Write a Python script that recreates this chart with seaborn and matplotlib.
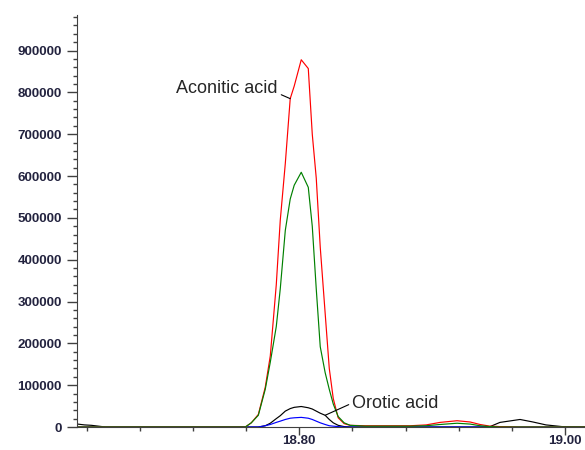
import matplotlib
matplotlib.use("Agg")
import matplotlib.pyplot as plt
from matplotlib.ticker import FixedLocator, MultipleLocator, NullFormatter
import pandas as pd
import seaborn as sns

# Retention time (min) shared by all traces
rt = [18.6331, 18.6383, 18.6436, 18.6489, 18.6541, 18.7594, 18.7639, 18.7692,
      18.7744, 18.7782, 18.7827, 18.7857, 18.7895, 18.7932, 18.7962, 18.8015,
      18.8068, 18.8098, 18.8128, 18.8158, 18.8195, 18.8226, 18.8256, 18.8293,
      18.8338, 18.8383, 18.8496, 18.8684, 18.8835, 18.8955, 18.9060, 18.9188,
      18.9286, 18.9361, 18.9436, 18.9511, 18.9662, 18.9759, 18.9857, 18.9977,
      19.0150]

# Intensities (counts)
aconitic = [0, 0, 0, 0, 0, 0, 10000, 30000,
            95000, 170000, 340000, 494000, 630000, 785000, 815000, 878000,
            857000, 700000, 595000, 430000, 272000, 140000, 68000, 22000,
            8000, 4000, 3000, 3000, 3000, 5000, 11000, 15000,
            12000, 6000, 2000, 1000, 0, 0, 0, 0,
            0]
aconitic_q = [0, 0, 0, 0, 0, 0, 10000, 28000,
              90000, 155000, 240000, 330000, 470000, 545000, 578000, 609000,
              573000, 480000, 330000, 192000, 130000, 90000, 55000, 25000,
              10000, 4000, 2000, 2000, 2000, 3000, 6000, 9000,
              7000, 3000, 1000, 0, 0, 0, 0, 0,
              0]
orotic = [7000, 5000, 4000, 2000, 0, 0, 0, 0,
          3000, 9000, 20000, 27000, 38000, 44000, 47000, 49000,
          46000, 43000, 38000, 33000, 28000, 18000, 10000, 4000,
          1000, 0, 0, 0, 0, 0, 0, 0,
          0, 0, 1000, 11000, 18000, 12000, 5000, 1000,
          0]
orotic_q = [0, 0, 0, 0, 0, 0, 0, 0,
            3000, 6000, 11000, 14000, 18000, 21000, 22000, 23000,
            21000, 18000, 14000, 10000, 6000, 3000, 2000, 1000,
            0, 0, 0, 0, 0, 0, 0, 0,
            0, 0, 0, 0, 0, 0, 0, 0,
            0]

traces = {
    "Orotic acid": orotic,
    "Orotic acid (qual)": orotic_q,
    "Aconitic acid": aconitic,
    "Aconitic acid (qual)": aconitic_q,
}
colors = {
    "Orotic acid": "black",
    "Orotic acid (qual)": "#0000ff",
    "Aconitic acid": "#ff0000",
    "Aconitic acid (qual)": "#008000",
}

df = pd.concat(
    [pd.DataFrame({"rt": rt, "intensity": vals, "trace": name})
     for name, vals in traces.items()],
    ignore_index=True,
)

sns.set_style("ticks")
plt.rcParams["font.family"] = ["Liberation Sans", "DejaVu Sans"]

fig = plt.figure(figsize=(5.85, 4.5), dpi=100)
ax = fig.add_axes([77 / 585, 23 / 450, 508 / 585, 412 / 450])

sns.lineplot(data=df, x="rt", y="intensity", hue="trace",
             hue_order=list(traces), palette=colors, estimator=None,
             linewidth=0.85, legend=False, ax=ax)

ax.set_xlim(18.6327, 19.0151)
ax.set_ylim(0, 985000)
ax.set_xlabel("")
ax.set_ylabel("")

ax.xaxis.set_major_locator(FixedLocator([18.80, 19.00]))
ax.xaxis.set_minor_locator(MultipleLocator(0.04))
ax.xaxis.set_minor_formatter(NullFormatter())
ax.set_xticklabels(["18.80", "19.00"])
ax.yaxis.set_major_locator(MultipleLocator(100000))
ax.yaxis.set_minor_locator(MultipleLocator(20000))
ax.yaxis.set_major_formatter(matplotlib.ticker.FuncFormatter(lambda v, p: f"{v:.0f}"))

label_color = "#23233f"
ax.tick_params(axis="both", which="major", length=7, width=1, color="#404040",
               labelsize=9.6, labelcolor=label_color)
ax.tick_params(axis="both", which="minor", length=3, width=1, color="#404040")
ax.tick_params(axis="x", which="major", length=5.5, pad=0.5)
ax.tick_params(axis="y", which="major", pad=4)
for lab in ax.get_xticklabels() + ax.get_yticklabels():
    lab.set_fontweight("bold")

sns.despine(ax=ax, top=True, right=True)
ax.spines["left"].set_color("#404040")
ax.spines["bottom"].set_color("#404040")

# peak labels with leader lines
i_acon = 13
ax.annotate("Aconitic acid", xy=(rt[i_acon], aconitic[i_acon]),
            xytext=(18.784, 810000), ha="right", va="center", fontsize=13,
            arrowprops=dict(arrowstyle="-", color="black", lw=0.8,
                            shrinkA=0, shrinkB=0, relpos=(1, 0.2)))
i_orot = 20
ax.annotate("Orotic acid", xy=(rt[i_orot], orotic[i_orot]),
            xytext=(18.8397, 57000), ha="left", va="center", fontsize=13,
            arrowprops=dict(arrowstyle="-", color="black", lw=0.8,
                            shrinkA=0, shrinkB=0, relpos=(0, 0.5)))

fig.savefig("out.png", dpi=100)
